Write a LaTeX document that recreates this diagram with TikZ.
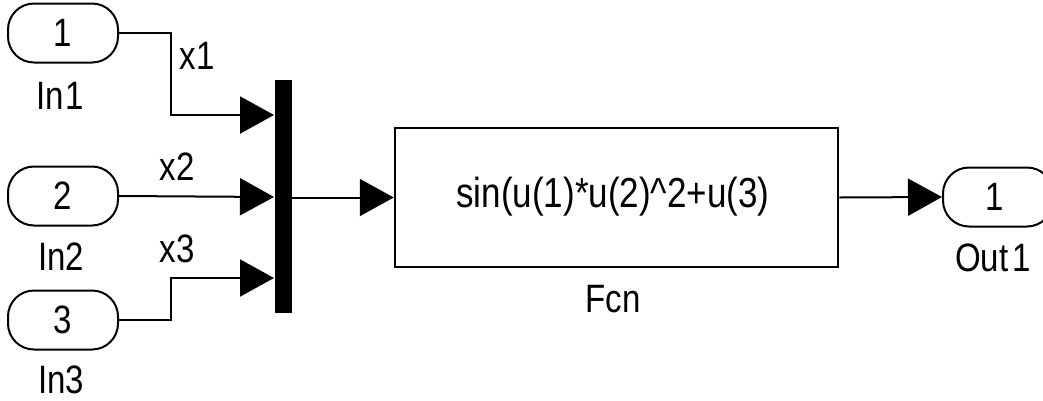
\documentclass[tikz,border=0pt]{standalone}
\usepackage{fontspec}
\setmainfont{Liberation Sans}
\usetikzlibrary{arrows.meta}
\newcommand{\tx}[2][33]{\scalebox{1}[1.2]{\fontsize{#1}{#1}\selectfont #2}}
\tikzset{
  port/.style={draw, line width=2pt, rounded corners=26pt, minimum width=110pt, minimum height=59pt, inner sep=0pt},
  muxbar/.style={fill=black, draw=none, minimum width=17pt, minimum height=233pt, inner sep=0pt},
  fcnbox/.style={draw, line width=2.5pt, minimum width=443pt, minimum height=139pt, inner sep=0pt},
  lbl/.style={inner sep=0pt},
  wire/.style={line width=2pt, -{Triangle[length=34pt,width=37pt]}},
}
\begin{document}
\begin{tikzpicture}[x=1pt,y=-1pt]
\useasboundingbox (0,0) rectangle (1043,400);
\clip (0,0) rectangle (1043,400);
% ports
\node[port] (in1) at (63,33) {\tx{1}};
\node[port] (in2) at (63,196) {\tx{2}};
\node[port] (in3) at (63,320) {\tx{3}};
\node[port] (out1) at (998,197) {\hspace*{-6pt}\tx{1}};
% port names
\node[lbl] (in1n) at (60,96) {\tx{In\kern2pt1}};
\node[lbl] (in2n) at (61,257) {\tx{In2}};
\node[lbl] (in3n) at (61,380) {\tx{In3}};
\node[lbl] (out1n) at (993,258) {\tx{Out\kern4pt1}};
% mux
\node[muxbar] (mux) at (283.5,196.5) {};
\coordinate (m1) at (274,115);
\coordinate (m2) at (274,197);
\coordinate (m3) at (274,278);
% fcn
\node[fcnbox] (fcn) at (616.5,197.5) {};
\node[lbl] (fcntxt) at (613,197) {\tx[35]{sin(u(1)*u(2)\^{}2+u(3)}};
\node[lbl] (fcnn) at (613,299) {\tx{Fcn}};
% signal labels
\node[lbl] (x1) at (197,56) {\tx{x1}};
\node[lbl] (x2) at (177,167) {\tx{x2}};
\node[lbl] (x3) at (177,249) {\tx{x3}};
% wires
\draw[wire] (in1.east) -- ++(52,0) |- (m1);
\draw[wire] (in2.east) -- (m2);
\draw[wire] (in3.east) -- ++(52,0) |- (m3);
\draw[wire] (mux.east |- fcn.west) -- (fcn.west);
\draw[wire] (fcn.east) -- (out1.west);
\end{tikzpicture}
\end{document}
